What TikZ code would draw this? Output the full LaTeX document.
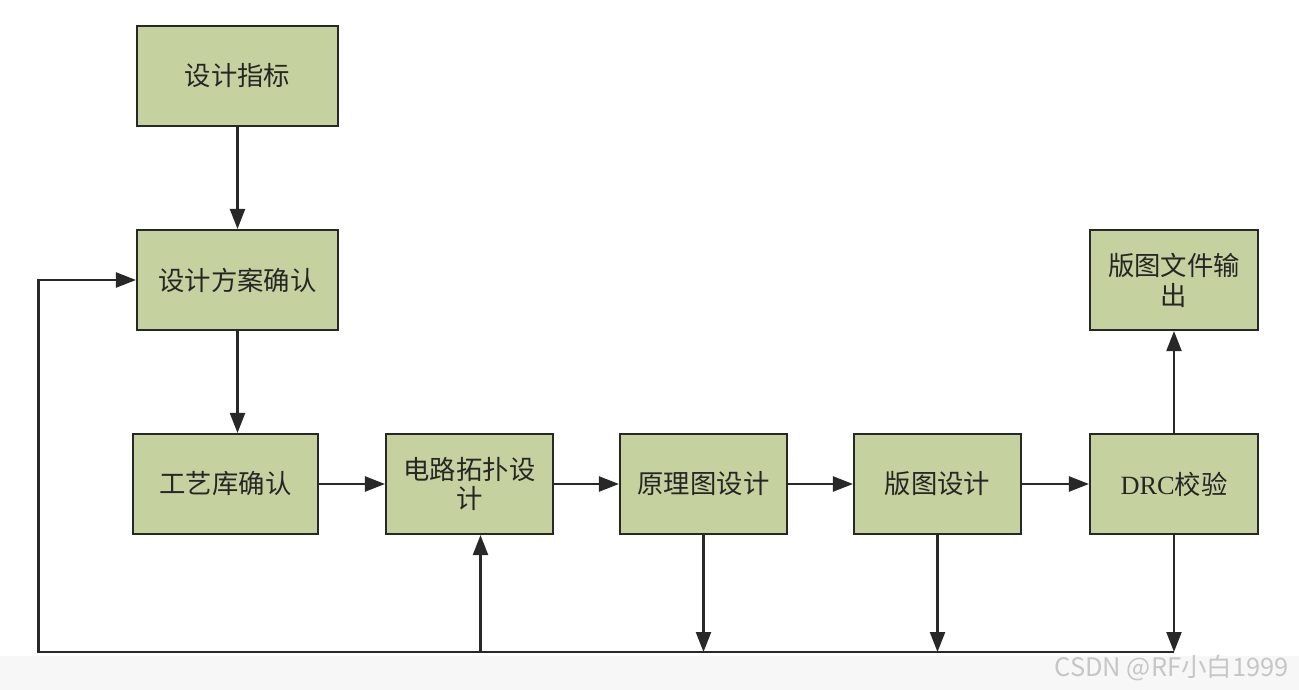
\documentclass[tikz,border=0pt]{standalone}
\usepackage{fontspec}
\setmainfont{Liberation Serif}
\newfontfamily\cjk{Noto Sans CJK SC}
\usetikzlibrary{arrows.meta}
\definecolor{boxgreen}{RGB}{198,209,160}
\definecolor{edgegray}{RGB}{40,40,40}

\begin{document}
\begin{tikzpicture}[x=0.02cm,y=-0.02cm,
    stage/.style={draw=edgegray, line width=1.2pt, fill=boxgreen, minimum height=2cm,
        align=center, text=black!85, font=\cjk\fontsize{15}{17}\selectfont},
    flow/.style={draw=edgegray, line width=1.3pt, -{Triangle[length=0.4cm,width=0.3cm]}}]
\useasboundingbox (0,0) rectangle (1299,690);
% bottom band and mark
    \fill[gray!6] (0,656) rectangle (1299,690);
    \node[anchor=east, text=gray!45, font=\cjk\fontsize{14.5}{16}\selectfont] (mark) at (1295,668) {CSDN @RF小白1999};
% stages
    \node[stage, minimum width=4.02cm] (spec) at (237.5,76) {设计指标};
    \node[stage, minimum width=4.02cm] (plan) at (237.5,280) {设计方案确认};
    \node[stage, minimum width=3.7cm] (lib) at (225.5,484) {工艺库确认};
    \node[stage, minimum width=3.34cm] (topo) at (469.5,484) {电路拓扑设\\计};
    \node[stage, minimum width=3.34cm] (sch) at (703.5,484) {原理图设计};
    \node[stage, minimum width=3.34cm] (lay) at (937.5,484) {版图设计};
    \node[stage, minimum width=3.36cm] (drc) at (1174,484) {{\rmfamily DRC}校验};
    \node[stage, minimum width=3.36cm] (out) at (1174,280) {版图文件输\\出};
% forward flow
    \draw[flow] (spec) -- (plan);
    \draw[flow] (plan.south) -- (plan.south |- lib.north);
    \draw[flow] (lib) -- (topo);
    \draw[flow] (topo) -- (sch);
    \draw[flow] (sch) -- (lay);
    \draw[flow] (lay) -- (drc);
    \draw[flow] (drc) -- (out);
% feedback
    \coordinate (base) at (38.5,652);
    \coordinate (up) at (480.5,652);
    \draw[flow] (sch.south) -- (sch.south |- base);
    \draw[flow] (lay.south) -- (lay.south |- base);
    \draw[flow] (drc.south) -- (drc.south |- base);
    \draw[flow] (drc.south |- base) -- (base) |- (plan.west);
    \draw[flow] (up) -- (up |- topo.south);
\end{tikzpicture}
\end{document}
